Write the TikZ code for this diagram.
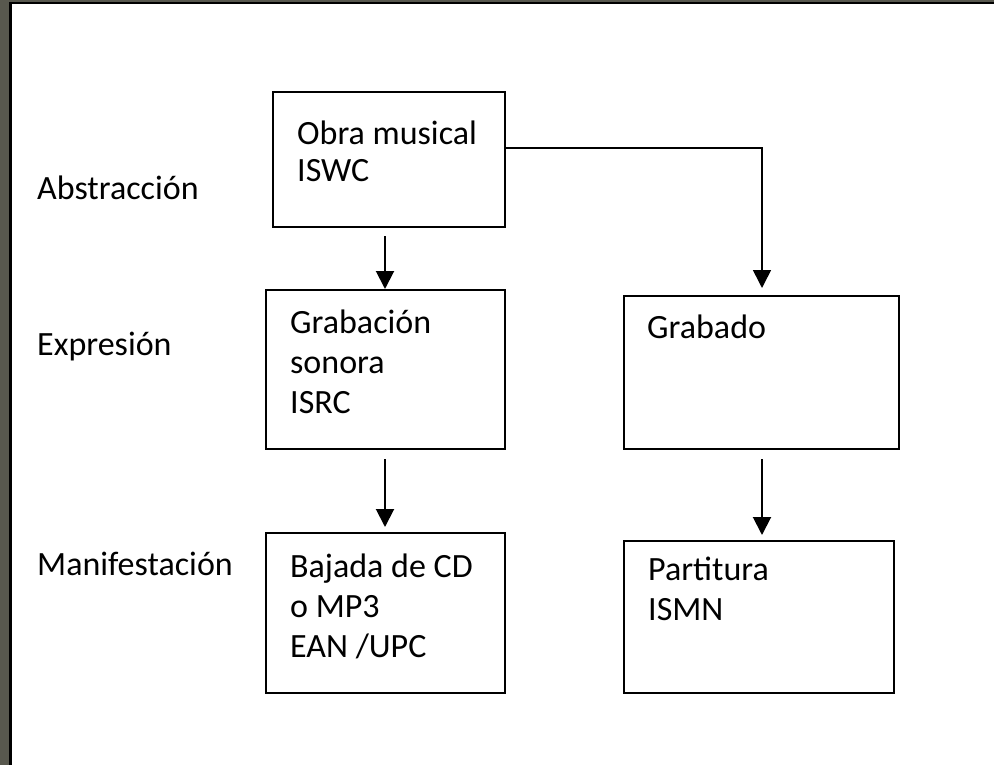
\documentclass[tikz,border=0pt]{standalone}
\usepackage{fontspec}
\setmainfont{Carlito}
\usetikzlibrary{arrows,arrows.meta,positioning,calc}
\definecolor{framegray}{RGB}{88,88,78}

\begin{document}
\begin{tikzpicture}[x=1pt,y=-1pt,
	box/.style={rectangle, draw=black, line width=2pt, anchor=north west, inner sep=0pt},
	txt/.style={anchor=base west, align=left, inner sep=0pt, font=\fontsize{34}{40}\selectfont},
	arr/.style={line width=2pt, -{Triangle[width=18pt,length=18pt]}}]
	\useasboundingbox (0,0) rectangle (994,765);
	% frame
	\fill[framegray] (0,0) rectangle (994,765);
	\fill[white] (9,2) rectangle (994,765);
	\draw[line width=2.5pt] (10.5,765) -- (10.5,3.2) -- (994,3.2);

	% levels
	\node[txt] (abs) at (37,200) {Abstracción};
	\node[txt] (exp) at (37,355) {Expresión};
	\node[txt] (man) at (37,575) {Manifestación};

	% boxes
	\node[box, minimum width=232pt, minimum height=135pt] (obra) at (272,91) {};
	\node[box, minimum width=239pt, minimum height=159pt] (grab) at (265,289) {};
	\node[box, minimum width=239pt, minimum height=160pt] (baja) at (265,532) {};
	\node[box, minimum width=275pt, minimum height=153pt] (grdo) at (623,295) {};
	\node[box, minimum width=270pt, minimum height=152pt] (part) at (623,540) {};

	% texts (base = last line)
	\node[txt] (obraT) at (297,182) {Obra musical\\[-3pt]ISWC};
	\node[txt] (grabT) at (290,413) {Grabación\\sonora\\ISRC};
	\node[txt] (bajaT) at (290,657) {Bajada de CD\\o MP3\\EAN /UPC};
	\node[txt] (grdoT) at (647,338) {Grabado};
	\node[txt] (partT) at (648,620) {Partitura\\ISMN};

	% connectors
	\coordinate (bend) at (762,148);
	\draw[arr, shorten <=8pt] (obra.south -| 385,0) -- (grab.north -| 385,0);
	\draw[arr, shorten <=9pt, shorten >=5pt] (grab.south -| 385,0) -- (baja.north -| 385,0);
	\draw[arr, line width=1.6pt, shorten >=7pt] (obra.east |- bend) -- (bend) -- (grdo.north -| bend);
	\draw[arr, shorten <=9pt, shorten >=5pt] (grdo.south -| bend) -- (part.north -| bend);
\end{tikzpicture}
\end{document}
